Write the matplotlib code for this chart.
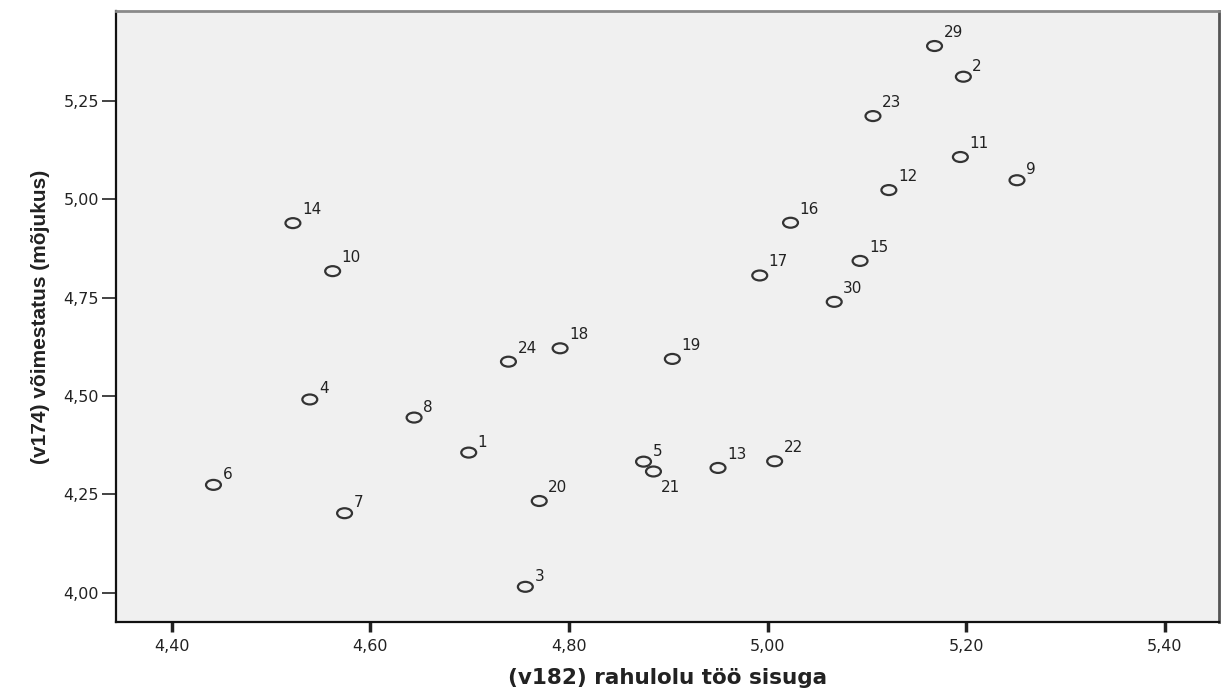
"""
Scatter of v182 vs v174 with case-number labels (SPSS style).
"""
import matplotlib
matplotlib.use("Agg")
import matplotlib.pyplot as plt
from matplotlib.path import Path
from matplotlib.transforms import Affine2D
from matplotlib.ticker import FuncFormatter

case_ids = [1, 2, 3, 4, 5, 6, 7, 8, 9, 10, 11, 12, 13, 14, 15,
            16, 17, 18, 19, 20, 21, 22, 23, 24, 29, 30]
rahulolu = [4.699, 5.197, 4.756, 4.539, 4.875, 4.442, 4.574, 4.644, 5.251, 4.562,
            5.194, 5.122, 4.950, 4.522, 5.093, 5.023, 4.992, 4.791, 4.904, 4.770,
            4.885, 5.007, 5.106, 4.739, 5.168, 5.067]
voimestatus = [4.356, 5.311, 4.015, 4.491, 4.333, 4.274, 4.202, 4.445, 5.048, 4.817,
               5.107, 5.023, 4.317, 4.939, 4.843, 4.940, 4.806, 4.621, 4.594, 4.233,
               4.308, 4.334, 5.211, 4.587, 5.389, 4.739]
x_ticks = [4.40, 4.60, 4.80, 5.00, 5.20, 5.40]
y_ticks = [4.00, 4.25, 4.50, 4.75, 5.00, 5.25]

plt.rcParams["font.family"] = ["DejaVu Sans"]

fig = plt.figure(figsize=(12.22, 6.91), dpi=100, facecolor="white")
ax = fig.add_axes([0.0947, 0.0994, 0.9031, 0.8847])
ax.set_facecolor("#f0f0f0")

# the source image is stretched sideways, so the circles are ellipses
ellipse = Path.unit_circle().transformed(Affine2D().scale(1.5, 1.0))
ax.scatter(rahulolu, voimestatus, marker=ellipse, s=115, facecolors="none",
           edgecolors="#333333", linewidths=1.6, zorder=3)

for cid, x, y in zip(case_ids, rahulolu, voimestatus):
    if cid == 21:
        ax.annotate(str(cid), (x, y), xytext=(7, -9), textcoords="offset pixels",
                    ha="left", va="top", fontsize=11, color="#222222")
    else:
        dy = 6 if cid < 10 else 9
        ax.annotate(str(cid), (x, y), xytext=(9, dy), textcoords="offset pixels",
                    ha="left", va="baseline", fontsize=11, color="#222222")

ax.set_xlim(4.3436, 5.4547)
ax.set_ylim(3.9248, 5.478)
ax.set_xticks(x_ticks)
ax.set_yticks(y_ticks)
comma = FuncFormatter(lambda v, p: f"{v:.2f}".replace(".", ","))
ax.xaxis.set_major_formatter(comma)
ax.yaxis.set_major_formatter(comma)
ax.tick_params(axis="x", length=7, width=2.5, pad=5, labelsize=11.5,
               colors="#222222", direction="out")
ax.tick_params(axis="y", length=10, width=1.2, pad=2, labelsize=11.5,
               colors="#222222", direction="out")

for side in ["left", "bottom"]:
    ax.spines[side].set_color("#111111")
    ax.spines[side].set_linewidth(1.6)
ax.spines["top"].set_color("#8a8a8a")
ax.spines["top"].set_linewidth(2.0)
ax.spines["right"].set_color("#555555")
ax.spines["right"].set_linewidth(2.0)

ax.set_xlabel("(v182) rahulolu töö sisuga", fontsize=15.5, fontweight="bold",
              color="#222222", labelpad=10)
ax.set_ylabel("(v174) võimestatus (mõjukus)", fontsize=15, fontweight="bold",
              color="#222222", labelpad=10,
              family=["Liberation Sans Narrow", "Liberation Sans"])

fig.savefig("out.png", dpi=100, facecolor="white")
